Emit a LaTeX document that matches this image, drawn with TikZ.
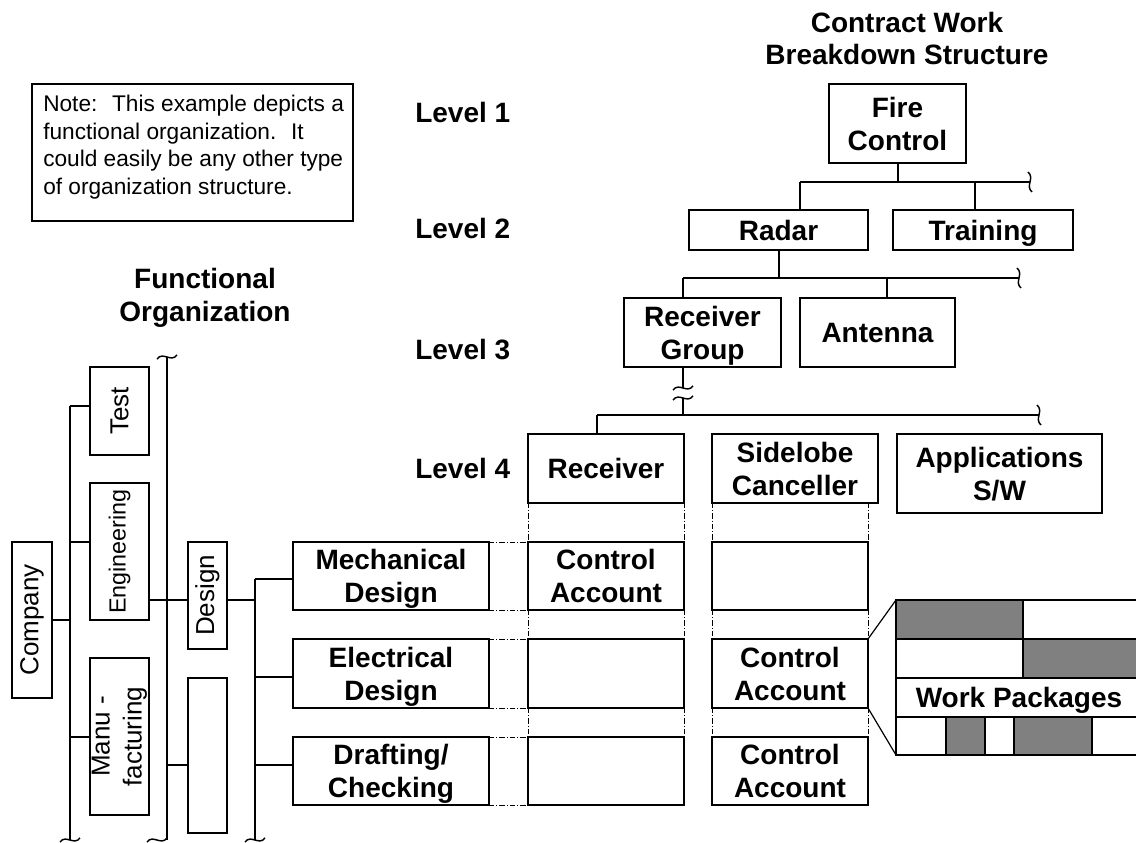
\documentclass[tikz,border=0pt]{standalone}
\usepackage{fontspec}
\setmainfont{Liberation Sans}
\newcommand\wbsfont{\fontsize{21}{24.7}\selectfont\bfseries}
\newcommand\orgfont{\fontsize{19.5}{24}\selectfont}
\newcommand\engfont{\fontsize{17.5}{21}\selectfont}
\newcommand\notefont{\fontsize{17}{20.6}\selectfont}
\newcommand\tln[2]{\rule{0pt}{17.5pt}\smash{#1}\\\smash{#2}\rule[-2.2pt]{0pt}{2.2pt}}
\newcommand\oln[1]{\rule[-2.2pt]{0pt}{19.7pt}\smash{#1}}
\begin{document}
\begin{tikzpicture}[x=0.75pt,y=-0.75pt,
  sz/.style 2 args={minimum width=#1*0.75pt, minimum height=#2*0.75pt},
  box/.style={draw, line width=1.8pt, inner sep=0pt, outer sep=0pt, align=center, font=\wbsfont},
  lbox/.style={draw, line width=2.2pt, inner sep=0pt, outer sep=0pt, align=center, rotate=90, font=\orgfont},
  conn/.style={line width=1.5pt},
  thinline/.style={line width=0.9pt},
  dashdotx/.style={line width=0.7pt, dash pattern=on 4pt off 1.5pt on 0.8pt off 1.5pt},
  lbl/.style={font=\wbsfont, anchor=west, inner sep=0pt},
  vbrk/.pic={\draw[line width=1.1pt] (-2,-10) .. controls (5,-4) and (-5,4) .. (2,10);},
  hbrk/.pic={\draw[line width=1.1pt] (-10,2) .. controls (-4,-6) and (4,6) .. (10,-2);}
]
\useasboundingbox (0,0) rectangle (1136,843);
\definecolor{wpgray}{RGB}{128,128,128}

% titles and labels
\node[font=\wbsfont, align=center] (title) at (907,38.5) {Contract Work\\Breakdown Structure};
\node[font=\wbsfont, align=center] (ftitle) at (205,297.5) {Functional\\Organization};
\node[lbl] (lv1) at (415,112) {Level 1};
\node[lbl] (lv2) at (415,228) {Level 2};
\node[lbl] (lv3) at (415,350) {Level 3};
\node[lbl] (lv4) at (415,468) {Level 4};

% note
\node[draw, line width=0.8pt, inner sep=0pt, outer sep=0pt, sz={321}{137}] (notebox) at (192.5,152.5) {};
\node[anchor=north west, align=left, font=\notefont, inner sep=0pt] (notetext) at (43,95) {Note:~ This example depicts a\\functional organization.~ It\\could easily be any other type\\of organization structure.};

% WBS boxes
\node[box, sz={137}{79}] (fire) at (897.5,123.5) {\tln{Fire}{Control}};
\node[box, sz={179}{40}] (radar) at (778.5,230) {\oln{Radar}};
\node[box, sz={180}{40}] (training) at (983,230) {\oln{Training}};
\node[box, sz={157}{69}] (rgroup) at (702.5,332.5) {\tln{Receiver}{Group}};
\node[box, sz={155}{69}] (antenna) at (877.5,332.5) {\oln{Antenna}};
\node[box, sz={156}{69}] (receiver) at (606,468.5) {\oln{Receiver}};
\node[box, sz={166}{69}] (sidelobe) at (795,468.5) {\tln{Sidelobe}{Canceller}};
\node[box, sz={205}{79}] (apps) at (999.5,473.5) {\tln{Applications}{S/W}};

% row boxes
\node[box, sz={196}{68}] (mech) at (391,576) {\tln{Mechanical}{Design}};
\node[box, sz={196}{69}] (elec) at (391,673.5) {\tln{Electrical}{Design}};
\node[box, sz={196}{68}] (draft) at (391,771) {\tln{Drafting/}{Checking}};
\node[box, sz={156}{68}] (ca11) at (606,576) {\tln{Control}{Account}};
\node[box, sz={156}{68}] (ca12) at (790,576) {};
\node[box, sz={156}{69}] (ca21) at (606,673.5) {};
\node[box, sz={156}{69}] (ca22) at (790,673.5) {\tln{Control}{Account}};
\node[box, sz={156}{68}] (ca31) at (606,771) {};
\node[box, sz={156}{68}] (ca32) at (790,771) {\tln{Control}{Account}};

% left organization boxes
\node[lbox, sz={156}{40}] (company) at (32,620) {Company};
\node[lbox, sz={88}{59}] (test) at (119.5,411) {Test};
\node[lbox, sz={137}{59}, font=\engfont] (eng) at (119.5,551.5) {Engineering};
\node[lbox, sz={157}{59}] (manu) at (119.5,736.5) {Manu -\\facturing};
\node[lbox, sz={107}{39}] (design) at (207.5,595.5) {Design};
\node[lbox, sz={155}{39}] (blank) at (207.5,755.5) {};

% WBS connectors
\coordinate (h1l) at (800,182);
\coordinate (h1r) at (1030,182);
\coordinate (h1t) at (975,182);
\draw[conn] (fire.south) -- (fire.south |- h1l);
\draw[conn] (h1l) -- (h1r);
\draw[conn] (h1l) -- (h1l |- radar.north);
\draw[conn] (h1t) -- (h1t |- training.north);
\pic at (h1r) {vbrk};

\coordinate (h2l) at (683,278);
\coordinate (h2r) at (1019,278);
\coordinate (h2a) at (887,278);
\draw[conn] (radar.south) -- (radar.south |- h2l);
\draw[conn] (h2l) -- (h2r);
\draw[conn] (h2l) -- (h2l |- rgroup.north);
\draw[conn] (h2a) -- (h2a |- antenna.north);
\pic at (h2r) {vbrk};

\coordinate (b1) at (683,388);
\coordinate (b2) at (683,398);
\coordinate (h3c) at (683,415);
\coordinate (h3l) at (597,415);
\coordinate (h3r) at (1039,415);
\draw[conn] (h2l |- rgroup.south) -- (b1);
\draw[conn] (b2) -- (h3c);
\pic at (b1) {hbrk};
\pic at (b2) {hbrk};
\draw[conn] (h3l) -- (h3r);
\draw[conn] (h3l) -- (h3l |- receiver.north);
\pic at (h3r) {vbrk};

% left organization connectors
\coordinate (tk1t) at (70,406);
\coordinate (tk1b) at (70,840);
\coordinate (c2) at (70,542);
\coordinate (c3) at (70,737);
\draw[conn] (tk1t) -- (tk1b);
\draw[conn] (company.south) -- (company.south -| tk1t);
\draw[conn] (tk1t) -- (tk1t -| test.north);
\draw[conn] (c2) -- (c2 -| eng.north);
\draw[conn] (c3) -- (c3 -| manu.north);
\pic at (tk1b) {hbrk};

\coordinate (tk2t) at (167,357);
\coordinate (tk2b) at (167,840);
\coordinate (ed) at (167,600);
\coordinate (bl) at (167,765);
\draw[conn] (tk2t) -- (tk2b);
\draw[conn] (ed -| eng.south) -- (ed -| design.north);
\draw[conn] (bl) -- (bl -| blank.north);
\pic at (tk2t) {hbrk};
\pic at ([xshift=-7.5pt]tk2b) {hbrk};

\coordinate (tk3t) at (255,579);
\coordinate (tk3b) at (255,840);
\coordinate (m2) at (255,677);
\coordinate (m3) at (255,765);
\draw[conn] (tk3t) -- (tk3b);
\draw[conn] (ed -| design.south) -- (ed -| tk3t);
\draw[conn] (tk3t) -- (tk3t -| mech.west);
\draw[conn] (m2) -- (m2 -| elec.west);
\draw[conn] (m3) -- (m3 -| draft.west);
\pic at (tk3b) {hbrk};

% dash-dot guides
\draw[dashdotx] (receiver.south west) -- (ca11.north west);
\draw[dashdotx] (receiver.south east) -- (ca11.north east);
\draw[dashdotx] (ca11.south west) -- (ca21.north west);
\draw[dashdotx] (ca11.south east) -- (ca21.north east);
\draw[dashdotx] (ca21.south west) -- (ca31.north west);
\draw[dashdotx] (ca21.south east) -- (ca31.north east);
\draw[dashdotx] (sidelobe.south west) -- (ca12.north west);
\draw[dashdotx] (ca12.north east |- sidelobe.south) -- (ca12.north east);
\draw[dashdotx] (ca12.south west) -- (ca22.north west);
\draw[dashdotx] (ca12.south east) -- (ca22.north east);
\draw[dashdotx] (ca22.south west) -- (ca32.north west);
\draw[dashdotx] (ca22.south east) -- (ca32.north east);
\draw[dashdotx] (mech.north east) -- (ca11.north west);
\draw[dashdotx] (mech.south east) -- (ca11.south west);
\draw[dashdotx] (elec.north east) -- (ca21.north west);
\draw[dashdotx] (elec.south east) -- (ca21.south west);
\draw[dashdotx] (draft.north east) -- (ca31.north west);
\draw[dashdotx] (draft.south east) -- (ca31.south west);

% work packages
\coordinate (wpa) at (896,600);
\coordinate (wpb) at (896,755);
\fill[wpgray] (896,600) rectangle (1023,639);
\fill[wpgray] (1023,639) rectangle (1140,678);
\fill[wpgray] (946,717) rectangle (985,755);
\fill[wpgray] (1014,717) rectangle (1092,755);
\draw[conn] (1140,600) -- (wpa) -- (wpb) -- (1140,755);
\draw[conn] (896,639) -- (1140,639);
\draw[conn] (896,678) -- (1140,678);
\draw[conn] (896,717) -- (1140,717);
\draw[conn] (1023,600) -- (1023,678);
\draw[conn] (946,717) -- (946,755);
\draw[conn] (985,717) -- (985,755);
\draw[conn] (1014,717) -- (1014,755);
\draw[conn] (1092,717) -- (1092,755);
\node[font=\wbsfont, inner sep=0pt] (wptext) at (1019,700) {Work Packages};
\draw[thinline] (ca22.north east) -- (wpa);
\draw[thinline] (ca22.south east) -- (wpb);
\end{tikzpicture}
\end{document}
